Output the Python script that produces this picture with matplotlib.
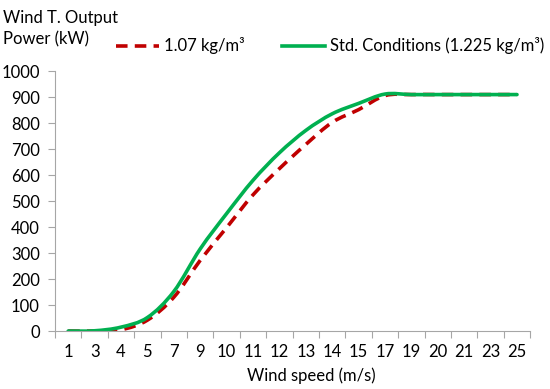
import numpy as np
import matplotlib
matplotlib.use('Agg')
import matplotlib.pyplot as plt
from matplotlib.path import Path
from matplotlib.patches import PathPatch
from matplotlib.lines import Line2D

matplotlib.rc('font', family=['Lato', 'DejaVu Sans'], size=12)

speeds = ['1', '3', '4', '5', '7', '9', '10', '11', '12', '13', '14', '15',
          '17', '19', '20', '21', '23', '25']
power_107 = [0, 0, 5, 42, 130, 272, 398, 524, 625, 718, 803, 852,
             906, 910, 910, 910, 910, 910]
power_std = [0, 1, 15, 52, 152, 316, 452, 580, 686, 772, 836, 876,
             912, 910, 910, 910, 910, 910]

ind = np.arange(len(speeds))


def smooth_path(x, y):
    """Excel-like smoothed line: Catmull-Rom segments as cubic Beziers."""
    pts = np.column_stack([x, y]).astype(float)
    verts = [pts[0]]
    codes = [Path.MOVETO]
    n = len(pts)
    for i in range(n - 1):
        p0 = pts[max(i - 1, 0)]
        p1 = pts[i]
        p2 = pts[i + 1]
        p3 = pts[min(i + 2, n - 1)]
        verts += [p1 + (p2 - p0) / 6, p2 - (p3 - p1) / 6, p2]
        codes += [Path.CURVE4] * 3
    return Path(verts, codes)


fig = plt.figure(figsize=(5.5, 3.89), dpi=100)
ax = fig.add_axes([0.1, 0.149, 0.864, 0.668])

red_kw = dict(color='#C00000', lw=2.6, dashes=(3.2, 2.0))
green_kw = dict(color='#00B050', lw=2.6)

ax.add_patch(PathPatch(smooth_path(ind, power_107), fill=False,
                       edgecolor=red_kw['color'], lw=2.6,
                       linestyle=(0, (3.2, 2.0)), capstyle='butt'))
ax.add_patch(PathPatch(smooth_path(ind, power_std), fill=False,
                       edgecolor=green_kw['color'], lw=2.6,
                       capstyle='round'))

ax.set_xlim(-0.5, len(speeds) - 0.5)
ax.set_ylim(0, 1000)
ax.set_yticks(np.arange(0, 1001, 100))

# Excel style: tick marks between categories, labels at centres
ax.set_xticks(np.arange(-0.5, len(speeds)), labels=[])
ax.set_xticks(ind, labels=speeds, minor=True)
ax.tick_params(axis='x', which='minor', length=0, pad=9)
ax.tick_params(axis='x', which='major', length=5, color='#A6A6A6')
ax.tick_params(axis='y', length=5, color='#A6A6A6', pad=6)

for s in ['top', 'right']:
    ax.spines[s].set_visible(False)
for s in ['left', 'bottom']:
    ax.spines[s].set_color('#A6A6A6')

ax.set_xlabel('Wind speed (m/s)')
ax.xaxis.set_label_coords(0.54, -0.14)
fig.text(0.006, 0.975, 'Wind T. Output\nPower (kW)', ha='left', va='top',
         linespacing=1.4)

handles = [Line2D([], [], **red_kw), Line2D([], [], **green_kw)]
labels = ['1.07 kg/m³', 'Std. Conditions (1.225 kg/m³)']
fig.legend(handles, labels, loc='center', bbox_to_anchor=(0.6, 0.882),
           ncol=2, frameon=False, handlelength=2.6, columnspacing=2.2,
           handletextpad=0.3)

plt.savefig('out.png', dpi=100)
